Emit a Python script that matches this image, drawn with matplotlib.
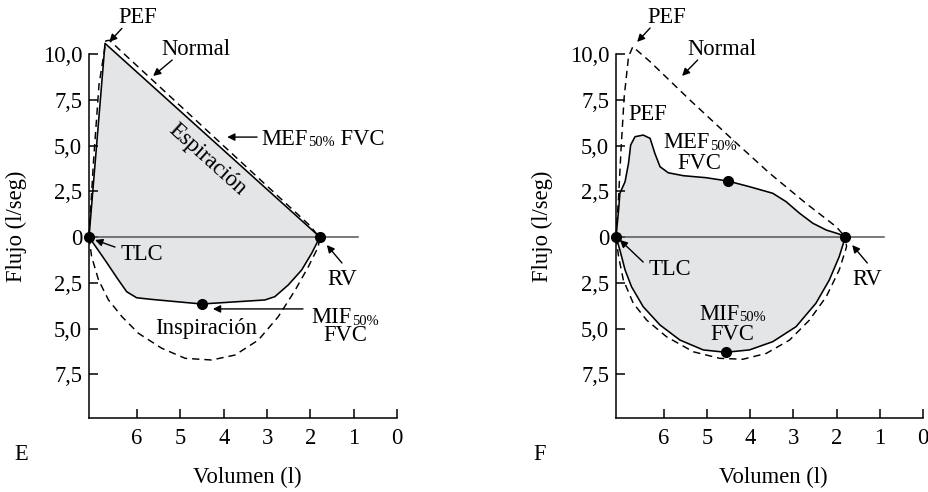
import matplotlib
matplotlib.use("Agg")
import matplotlib.pyplot as plt
import matplotlib.transforms as mtransforms

plt.rcParams['font.family'] = ['Liberation Serif', 'DejaVu Serif']

# ---------------- data ----------------
x_ticks = [6, 5, 4, 3, 2, 1, 0]
y_ticks = [10, 7.5, 5, 2.5, 0, -2.5, -5, -7.5]
y_tick_labels = ['10,0', '7,5', '5,0', '2,5', '0', '2,5', '5,0', '7,5']

# Panel E
e_exp_vol = [7.11, 6.74, 1.78]
e_exp_flow = [0.0, 10.58, 0.0]
e_insp_vol = [7.11, 6.74, 6.43, 6.24, 6.01, 5.66, 4.51, 3.05, 2.82, 2.51, 2.20, 1.97, 1.78]
e_insp_flow = [0.0, -1.26, -2.35, -2.99, -3.32, -3.41, -3.66, -3.44, -3.26, -2.62, -1.80, -0.89, 0.0]
e_norm_exp_vol = [7.11, 7.01, 6.88, 6.72, 6.64, 2.00, 1.85, 1.78]
e_norm_exp_flow = [0.0, 4.0, 8.3, 10.72, 10.75, 0.60, 0.15, 0.0]
e_norm_insp_vol = [7.11, 7.05, 6.89, 6.66, 6.35, 5.97, 5.43, 4.89, 4.28, 3.74, 3.20, 2.74, 2.35, 2.05, 1.82, 1.78]
e_norm_insp_flow = [0.0, -1.07, -2.35, -3.44, -4.35, -5.26, -6.08, -6.63, -6.72, -6.45, -5.63, -4.35, -2.90, -1.64, -0.55, 0.0]
e_pts_vol = [7.11, 1.78, 4.51]
e_pts_flow = [0.0, 0.0, -3.66]

# Panel F
f_exp_vol = [7.11, 7.05, 7.02, 6.90, 6.82, 6.77, 6.67, 6.48, 6.32, 6.21, 6.09, 5.90, 5.55,
             5.02, 4.52, 4.02, 3.48, 3.17, 2.86, 2.55, 2.24, 1.94, 1.80]
f_exp_flow = [0.0, 1.48, 2.39, 3.02, 4.03, 5.03, 5.48, 5.57, 5.39, 4.57, 3.84, 3.51, 3.35,
              3.24, 3.06, 2.75, 2.39, 1.93, 1.30, 0.75, 0.38, 0.16, 0.0]
f_insp_vol = [7.11, 7.02, 6.90, 6.75, 6.48, 6.09, 5.63, 5.09, 4.57, 4.02, 3.48, 2.94, 2.48, 2.17, 1.94, 1.82, 1.80]
f_insp_flow = [0.0, -0.71, -1.80, -2.72, -3.81, -4.81, -5.63, -6.17, -6.30, -6.17, -5.72, -4.90, -3.62, -2.35, -1.07, -0.16, 0.0]
f_norm_exp_vol = [7.11, 7.05, 6.99, 6.92, 6.82, 6.72, 6.59, 6.32, 5.40, 4.40, 3.55, 2.71, 2.01, 1.80]
f_norm_exp_flow = [0.0, 2.2, 4.93, 7.67, 9.85, 10.4, 10.13, 9.58, 7.49, 5.30, 3.48, 1.84, 0.56, 0.0]
f_norm_insp_vol = [7.11, 7.05, 6.94, 6.71, 6.40, 5.94, 5.32, 4.71, 4.17, 3.63, 3.09, 2.63, 2.24, 1.94, 1.77, 1.80]
f_norm_insp_flow = [0.0, -1.07, -2.35, -3.62, -4.54, -5.45, -6.27, -6.63, -6.68, -6.36, -5.63, -4.54, -3.26, -1.80, -0.53, 0.0]
f_pts_vol = [7.11, 1.80, 4.52, 4.57]
f_pts_flow = [0.0, 0.0, 3.06, -6.30]

# ---------------- figure ----------------
W, H = 929, 492
fig = plt.figure(figsize=(W / 100, H / 100), dpi=100)
renderer = fig.canvas.get_renderer()
FS = 16.3
SUB_FS = FS * 0.64
FILL = '#e4e5e7'
DASH = (0, (5, 3.4))


def make_axes(left_px, width_px):
    ax = fig.add_axes([left_px / W, (H - 418) / H, width_px / W, (418 - 54) / H])
    ax.set_xlim(7.11, 0)
    ax.set_ylim(-9.89, 10)
    for s in ('top', 'right'):
        ax.spines[s].set_visible(False)
    for s in ('left', 'bottom'):
        ax.spines[s].set_linewidth(1.1)
    ax.set_xticks(x_ticks)
    ax.set_xticklabels([str(t) for t in x_ticks], fontsize=FS)
    ax.set_yticks(y_ticks)
    ax.set_yticklabels(y_tick_labels, fontsize=FS)
    ax.tick_params(axis='x', direction='in', length=6.5, width=1.1, pad=7)
    ax.tick_params(axis='y', direction='in', length=6.5, width=1.1, pad=5)
    ax.patch.set_alpha(0)
    ax.plot([7.11, 0.9], [0, 0], color='#555555', lw=1.1, zorder=3, clip_on=False)
    return ax


def arrow(ax, tail, head):
    ax.annotate('', xy=head, xytext=tail,
                arrowprops=dict(arrowstyle='-|>', color='black', lw=1.0,
                                mutation_scale=11, shrinkA=0, shrinkB=0),
                annotation_clip=False)


def sub_text(ax, x, y, parts, ha='center'):
    """parts: list of (string, is_subscript). (x, y): centre of the capitals."""
    widths = []
    for s, is_sub in parts:
        t = ax.text(0, 0, s, fontsize=SUB_FS if is_sub else FS)
        widths.append(t.get_window_extent(renderer).width)
        t.remove()
    total = sum(widths)
    start = -total / 2 if ha == 'center' else 0.0
    cap_half = FS * 100 / 72 * 0.662 / 2
    off = start
    for (s, is_sub), w in zip(parts, widths):
        tr = mtransforms.offset_copy(ax.transData, fig=fig, x=off,
                                     y=-cap_half - (1.5 if is_sub else 0), units='dots')
        ax.text(x, y, s, fontsize=SUB_FS if is_sub else FS, ha='left', va='baseline',
                transform=tr, clip_on=False)
        off += w


def fill_loop(ax, ev, ef, iv, ifl):
    ax.fill(list(ev) + list(iv[::-1]), list(ef) + list(ifl[::-1]),
            color=FILL, lw=0, zorder=1, clip_on=False)


def curves(ax, ev, ef, iv, ifl, nev, nef, niv, nif, pv, pf):
    fill_loop(ax, ev, ef, iv, ifl)
    ax.plot(ev, ef, color='black', lw=1.15, zorder=4, clip_on=False)
    ax.plot(iv, ifl, color='black', lw=1.15, zorder=4, clip_on=False)
    ax.plot(nev, nef, color='black', lw=1.05, ls=DASH, zorder=4, clip_on=False)
    ax.plot(niv, nif, color='black', lw=1.05, ls=DASH, zorder=4, clip_on=False)
    ax.plot(pv, pf, 'o', color='black', ms=7, zorder=5, clip_on=False)


# ---- Panel E ----
axE = make_axes(89, 308)
curves(axE, e_exp_vol, e_exp_flow, e_insp_vol, e_insp_flow,
       e_norm_exp_vol, e_norm_exp_flow, e_norm_insp_vol, e_norm_insp_flow,
       e_pts_vol, e_pts_flow)

axE.text(5.98, 11.97, 'PEF', fontsize=FS, ha='center', va='center')
arrow(axE, (6.35, 11.4), (6.64, 10.66))
axE.text(4.64, 10.22, 'Normal', fontsize=FS, ha='center', va='center')
arrow(axE, (5.19, 9.67), (5.63, 8.80))
sub_text(axE, 3.12, 5.46, [('MEF', False), ('50%', True), (' FVC', False)], ha='left')
arrow(axE, (3.23, 5.46), (3.92, 5.46))
axE.text(4.38, 4.21, 'Espiración', fontsize=FS, ha='center', va='center', rotation=-42,
         rotation_mode='anchor')
axE.text(5.88, -0.98, 'TLC', fontsize=FS, ha='center', va='center')
arrow(axE, (6.51, -0.55), (6.97, -0.16))
axE.text(1.27, -2.30, 'RV', fontsize=FS, ha='center', va='center')
arrow(axE, (1.27, -1.42), (1.62, -0.44))
sub_text(axE, 1.20, -4.30, [('MIF', False), ('50%', True)])
sub_text(axE, 1.20, -5.30, [('FVC', False)])
arrow(axE, (2.17, -3.93), (4.25, -3.93))
axE.text(4.41, -4.98, 'Inspiración', fontsize=FS, ha='center', va='center')

# ---- Panel F ----
axF = make_axes(616, 307)
curves(axF, f_exp_vol, f_exp_flow, f_insp_vol, f_insp_flow,
       f_norm_exp_vol, f_norm_exp_flow, f_norm_insp_vol, f_norm_insp_flow,
       f_pts_vol, f_pts_flow)

axF.text(5.93, 11.97, 'PEF', fontsize=FS, ha='center', va='center')
arrow(axF, (6.32, 11.42), (6.62, 10.66))
axF.text(4.66, 10.22, 'Normal', fontsize=FS, ha='center', va='center')
arrow(axF, (5.22, 9.67), (5.58, 8.80))
axF.text(6.37, 6.67, 'PEF', fontsize=FS, ha='center', va='center')
sub_text(axF, 5.17, 5.25, [('MEF', False), ('50%', True)])
sub_text(axF, 5.17, 4.10, [('FVC', False)])
axF.text(5.86, -1.80, 'TLC', fontsize=FS, ha='center', va='center')
arrow(axF, (6.48, -1.37), (7.02, -0.16))
axF.text(1.29, -2.30, 'RV', fontsize=FS, ha='center', va='center')
arrow(axF, (1.29, -1.42), (1.64, -0.44))
sub_text(axF, 4.41, -4.10, [('MIF', False), ('50%', True)])
sub_text(axF, 4.41, -5.20, [('FVC', False)])

# ---- figure-level labels ----
for xc, lab in ((21, 'E'), (540, 'F')):
    fig.text(xc / W, 1 - 455 / H, lab, fontsize=FS, ha='center', va='center')
for xc in (247, 773):
    fig.text(xc / W, 1 - 477 / H, 'Volumen (l)', fontsize=FS, ha='center', va='center')
for xc in (16, 542):
    fig.text(xc / W, 1 - 226 / H, 'Flujo (l/seg)', fontsize=FS, ha='center', va='center',
             rotation=90)

fig.savefig('out.png', dpi=100)
